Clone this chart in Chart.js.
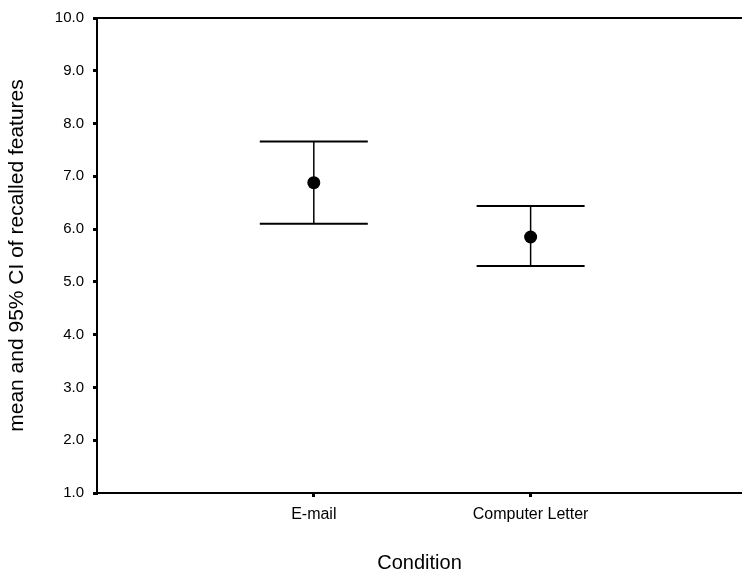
<!DOCTYPE html>
<html>
<head>
<meta charset="utf-8">
<script src="https://cdn.jsdelivr.net/npm/chart.js@4/dist/chart.umd.min.js"></script>
<style>
html,body{margin:0;padding:0;background:#fff;}
#wrap{width:742px;height:576px;position:relative;}
</style>
</head>
<body>
<div id="wrap"><canvas id="c" width="742" height="576"></canvas></div>
<script>
const categories = ['E-mail', 'Computer Letter'];
const categoryPositions = [1, 2];
const means = [6.88, 5.85];
const upperCI = [7.66, 6.44];
const lowerCI = [6.10, 5.30];
const yTicks = [1, 2, 3, 4, 5, 6, 7, 8, 9, 10];
const yTitle = 'mean and 95% CI of recalled features';
const xTitle = 'Condition';

const FONT = '"Liberation Sans", Arial, sans-serif';

const errorBars = {
  id: 'errorBars',
  beforeDatasetsDraw(chart) {
    const ctx = chart.ctx;
    const xs = chart.scales.x, ys = chart.scales.y;
    ctx.save();
    ctx.strokeStyle = '#000';
    for (let i = 0; i < categories.length; i++) {
      const x = xs.getPixelForValue(categoryPositions[i]);
      const yt = ys.getPixelForValue(upperCI[i]);
      const yb = ys.getPixelForValue(lowerCI[i]);
      ctx.lineWidth = 1.5;
      ctx.beginPath(); ctx.moveTo(x, yt); ctx.lineTo(x, yb); ctx.stroke();
      ctx.lineWidth = 2;
      const hw = 54;
      ctx.beginPath(); ctx.moveTo(x - hw, yt); ctx.lineTo(x + hw, yt); ctx.stroke();
      ctx.beginPath(); ctx.moveTo(x - hw, yb); ctx.lineTo(x + hw, yb); ctx.stroke();
    }
    const a = chart.chartArea;
    ctx.lineWidth = 2;
    ctx.beginPath(); ctx.moveTo(a.left, a.top); ctx.lineTo(chart.width, a.top); ctx.stroke();
    ctx.restore();
  }
};

new Chart(document.getElementById('c'), {
  type: 'scatter',
  data: {
    datasets: [{
      data: categoryPositions.map((p, i) => ({ x: p, y: means[i] })),
      pointRadius: 6.5,
      pointHoverRadius: 6.5,
      backgroundColor: '#000',
      borderColor: '#000',
      borderWidth: 0
    }]
  },
  options: {
    responsive: false,
    animation: false,
    events: [],
    layout: { autoPadding: false, padding: { top: 18, right: 0, left: 0, bottom: 0 } },
    plugins: { legend: { display: false }, tooltip: { enabled: false } },
    scales: {
      x: {
        type: 'linear',
        min: 0,
        max: 2.975,
        afterBuildTicks(scale) { scale.ticks = categoryPositions.map(v => ({ value: v })); },
        afterFit(scale) { scale.height = 83; },
        ticks: {
          callback: (v) => categories[categoryPositions.indexOf(v)],
          font: { family: FONT, size: 16 },
          color: '#000',
          padding: 8,
          maxRotation: 0
        },
        grid: { drawOnChartArea: false, drawTicks: true, tickLength: 4, lineWidth: 3, color: '#000' },
        border: { display: true, color: '#000', width: 2 },
        title: { display: true, text: xTitle, font: { family: FONT, size: 20 }, color: '#000', padding: { top: 0, bottom: 1 } }
      },
      y: {
        min: 1,
        max: 10,
        afterBuildTicks(scale) { scale.ticks = yTicks.map(v => ({ value: v })); },
        afterFit(scale) { scale.width = 97; },
        ticks: {
          callback: (v) => v.toFixed(1),
          font: { family: FONT, size: 15 },
          color: '#000',
          padding: 9
        },
        grid: { drawOnChartArea: false, drawTicks: true, tickLength: 4, lineWidth: 3, color: '#000' },
        border: { display: true, color: '#000', width: 2 },
        title: { display: true, text: yTitle, font: { family: FONT, size: 21 }, color: '#000', padding: { top: 5, bottom: 0 } }
      }
    }
  },
  plugins: [errorBars]
});
</script>
</body>
</html>
